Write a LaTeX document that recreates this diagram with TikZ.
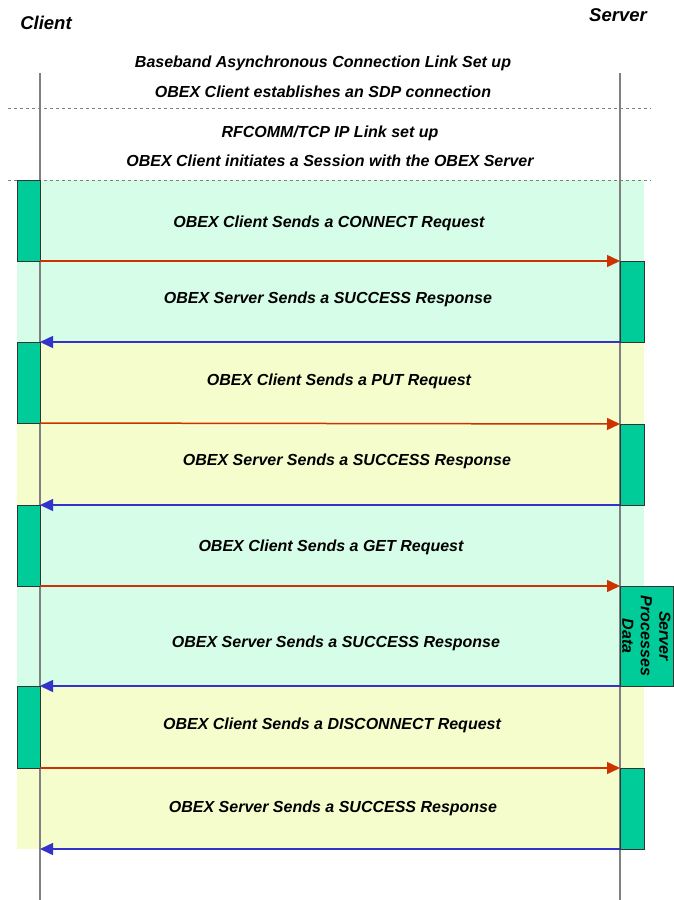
\documentclass[tikz,border=0pt]{standalone}
\usepackage{fontspec}
\setmainfont{Liberation Sans}
\usetikzlibrary{arrows.meta}
\definecolor{bandgreen}{HTML}{D5FDE8}
\definecolor{bandyellow}{HTML}{F5FDCD}
\definecolor{actfill}{HTML}{00CC99}
\definecolor{reqred}{HTML}{CC3300}
\definecolor{respblue}{HTML}{3333CC}
\definecolor{lifegray}{HTML}{808080}
\tikzset{
  lbl/.style={font=\fontsize{16}{18}\selectfont\bfseries\itshape, inner sep=0pt, yshift=-2pt},
  actor/.style={font=\fontsize{18.5}{20}\selectfont\bfseries\itshape, inner sep=0pt},
  act/.style={draw=black!80, fill=actfill, line width=0.9pt, inner sep=0pt, outer sep=0pt, anchor=north west},
  life/.style={draw=lifegray, line width=1.4pt},
  sep/.style={draw=gray, dashed, line width=0.7pt},
  req/.style={draw=reqred, line width=1.5pt, -{Triangle[length=13pt,width=12pt]}},
  resp/.style={draw=respblue, line width=1.5pt, -{Triangle[length=13pt,width=12pt]}},
}
\begin{document}
\begin{tikzpicture}[x=1pt,y=-1pt]
\useasboundingbox (0,0) rectangle (673,900);
% background bands
\fill[bandgreen] (17,180) rectangle (644,342);
\fill[bandyellow] (17,342) rectangle (644,505);
\fill[bandgreen] (17,505) rectangle (644,686);
\fill[bandyellow] (17,686) rectangle (644,849);
% separators
\draw[sep] (8,108) -- (651,108);
\draw[sep] (8,180) -- (651,180);
% lifelines
\coordinate (ctop) at (40,73);
\coordinate (cbot) at (40,900);
\coordinate (stop) at (620,73);
\coordinate (sbot) at (620,900);
\draw[life] (ctop) -- (cbot);
\draw[life] (stop) -- (sbot);
% actors
\node[actor] (client) at (46,23) {Client};
\node[actor] (server) at (618,15) {Server};
% setup phases
\node[lbl] (t1) at (323,61) {Baseband Asynchronous Connection Link Set up};
\node[lbl] (t2) at (323,90) {OBEX Client establishes an SDP connection};
\node[lbl] (t3) at (330,131) {RFCOMM/TCP IP Link set up};
\node[lbl] (t4) at (330,159) {OBEX Client initiates a Session with the OBEX Server};
% activation boxes
\node[act, minimum width=23pt, minimum height=81pt] (c1) at (17,180) {};
\node[act, minimum width=24pt, minimum height=81pt] (s1) at (620,261) {};
\node[act, minimum width=23pt, minimum height=81pt] (c2) at (17,342) {};
\node[act, minimum width=24pt, minimum height=81pt] (s2) at (620,424) {};
\node[act, minimum width=23pt, minimum height=81pt] (c3) at (17,505) {};
\node[act, minimum width=53pt, minimum height=100pt] (s3) at (620,586) {};
\node[act, minimum width=23pt, minimum height=82pt] (c4) at (17,686) {};
\node[act, minimum width=24pt, minimum height=81pt] (s4) at (620,768) {};
\node[rotate=-90, align=center, inner sep=0pt, font=\fontsize{16}{18.5}\selectfont\bfseries\itshape] (proc) at (s3.center) {Server\\Processes\\Data};
\coordinate (cend) at (40,849);
% messages
\draw[req] (c1.south east) -- (s1.north west);
\draw[resp] (s1.south west) -- (c2.north east);
\draw[req] (c2.south east) -- (s2.north west);
\draw[resp] (s2.south west) -- (c3.north east);
\draw[req] (c3.south east) -- (s3.north west);
\draw[resp] (s3.south west) -- (c4.north east);
\draw[req] (c4.south east) -- (s4.north west);
\draw[resp] (s4.south west) -- (cend);
% message labels
\node[lbl] (m1) at (329,221) {OBEX Client Sends a CONNECT Request};
\node[lbl] (m2) at (328,297) {OBEX Server Sends a SUCCESS Response};
\node[lbl] (m3) at (339,379) {OBEX Client Sends a PUT Request};
\node[lbl] (m4) at (347,459) {OBEX Server Sends a SUCCESS Response};
\node[lbl] (m5) at (331,545) {OBEX Client Sends a GET Request};
\node[lbl] (m6) at (336,641) {OBEX Server Sends a SUCCESS Response};
\node[lbl] (m7) at (332,723) {OBEX Client Sends a DISCONNECT Request};
\node[lbl] (m8) at (333,806) {OBEX Server Sends a SUCCESS Response};
\end{tikzpicture}
\end{document}
